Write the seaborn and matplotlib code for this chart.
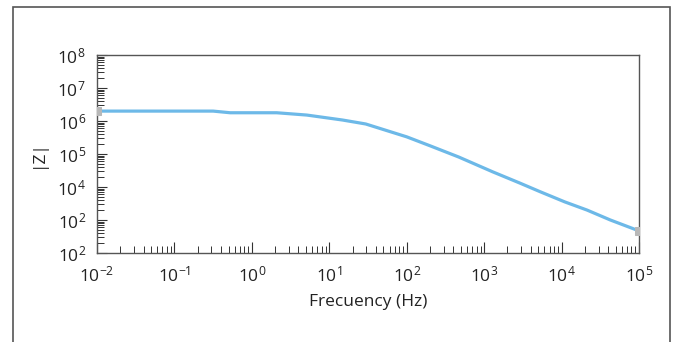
import numpy as np
import pandas as pd
import matplotlib
matplotlib.use("Agg")
import matplotlib.pyplot as plt
import matplotlib.ticker as mticker
from matplotlib.patches import Rectangle
import seaborn as sns

# Data (log10 values)
log_freq = [-2.0, -0.5, -0.28, 0.32, 0.71, 1.17, 1.47, 2.0, 2.3, 2.67, 3.11, 3.46, 3.72, 4.04, 4.33, 4.63, 5.0]
log_z = [6.30, 6.30, 6.25, 6.25, 6.18, 6.03, 5.91, 5.52, 5.25, 4.91, 4.46, 4.12, 3.86, 3.55, 3.30, 3.00, 2.67]
x_ticks = [1e-2, 1e-1, 1e0, 1e1, 1e2, 1e3, 1e4, 1e5]
x_tick_labels = [r"$10^{-2}$", r"$10^{-1}$", r"$10^{0}$", r"$10^{1}$", r"$10^{2}$", r"$10^{3}$", r"$10^{4}$", r"$10^{5}$"]
y_ticks = [1e2, 1e3, 1e4, 1e5, 1e6, 1e7, 1e8]
y_tick_labels = [r"$10^{2}$", r"$10^{2}$", r"$10^{4}$", r"$10^{5}$", r"$10^{6}$", r"$10^{7}$", r"$10^{8}$"]
x_label = "Frecuency (Hz)"
y_label = "|Z|"

df = pd.DataFrame({"freq": 10 ** np.array(log_freq), "z": 10 ** np.array(log_z)})

sns.set_style("ticks")
plt.rcParams["font.family"] = ["Open Sans", "DejaVu Sans"]
plt.rcParams["mathtext.fontset"] = "custom"
plt.rcParams["mathtext.rm"] = "Open Sans"
plt.rcParams["mathtext.it"] = "Open Sans"
plt.rcParams["mathtext.default"] = "regular"
plt.rcParams["axes.unicode_minus"] = False

W, H = 676, 342
fig = plt.figure(figsize=(W / 100, H / 100), dpi=100)
ax = fig.add_axes([97 / W, 1 - 253 / H, (639 - 97) / W, (253 - 55) / H])

sns.lineplot(data=df, x="freq", y="z", ax=ax, color="#6db9e8", linewidth=2.3,
             marker="s", markevery=[0, len(df) - 1], markersize=5.5,
             markerfacecolor="#b8b8b8", markeredgecolor="#b8b8b8", zorder=3)

ax.set_xscale("log")
ax.set_yscale("log")
ax.set_xlim(1e-2, 1e5)
ax.set_ylim(1e2, 1e8)
ax.set_xticks(x_ticks)
ax.set_xticklabels(x_tick_labels)
ax.set_yticks(y_ticks)
ax.set_yticklabels(y_tick_labels)
ax.xaxis.set_minor_locator(mticker.LogLocator(base=10, subs=np.arange(2, 10), numticks=20))
ax.yaxis.set_minor_locator(mticker.LogLocator(base=10, subs=np.arange(2, 10), numticks=20))
ax.xaxis.set_minor_formatter(mticker.NullFormatter())
ax.yaxis.set_minor_formatter(mticker.NullFormatter())

ax.tick_params(axis="x", which="major", direction="in", length=8, width=0.8, color="#333333",
               labelsize=12.5, pad=9, labelcolor="#222222")
ax.tick_params(axis="x", which="minor", direction="in", length=5, width=0.7, color="#333333")
ax.tick_params(axis="y", which="major", direction="in", length=7, width=0.8, color="#333333",
               labelsize=12.5, pad=8, labelcolor="#222222")
ax.tick_params(axis="y", which="minor", direction="in", length=5, width=0.7, color="#333333")

for s in ax.spines.values():
    s.set_visible(True)
    s.set_color("#555555")
    s.set_linewidth(1.0)

ax.set_xlabel(x_label, fontsize=12.5, color="#222222", labelpad=6)
ax.set_ylabel(y_label, fontsize=12.5, color="#222222", labelpad=8)

# outer frame
fig.patches.append(Rectangle((13 / W, -0.1), (670 - 13) / W, 1 - 7 / H + 0.1,
                             transform=fig.transFigure, fill=False,
                             edgecolor="#555555", linewidth=1.2, clip_on=False))

fig.savefig("out.png", dpi=100)
